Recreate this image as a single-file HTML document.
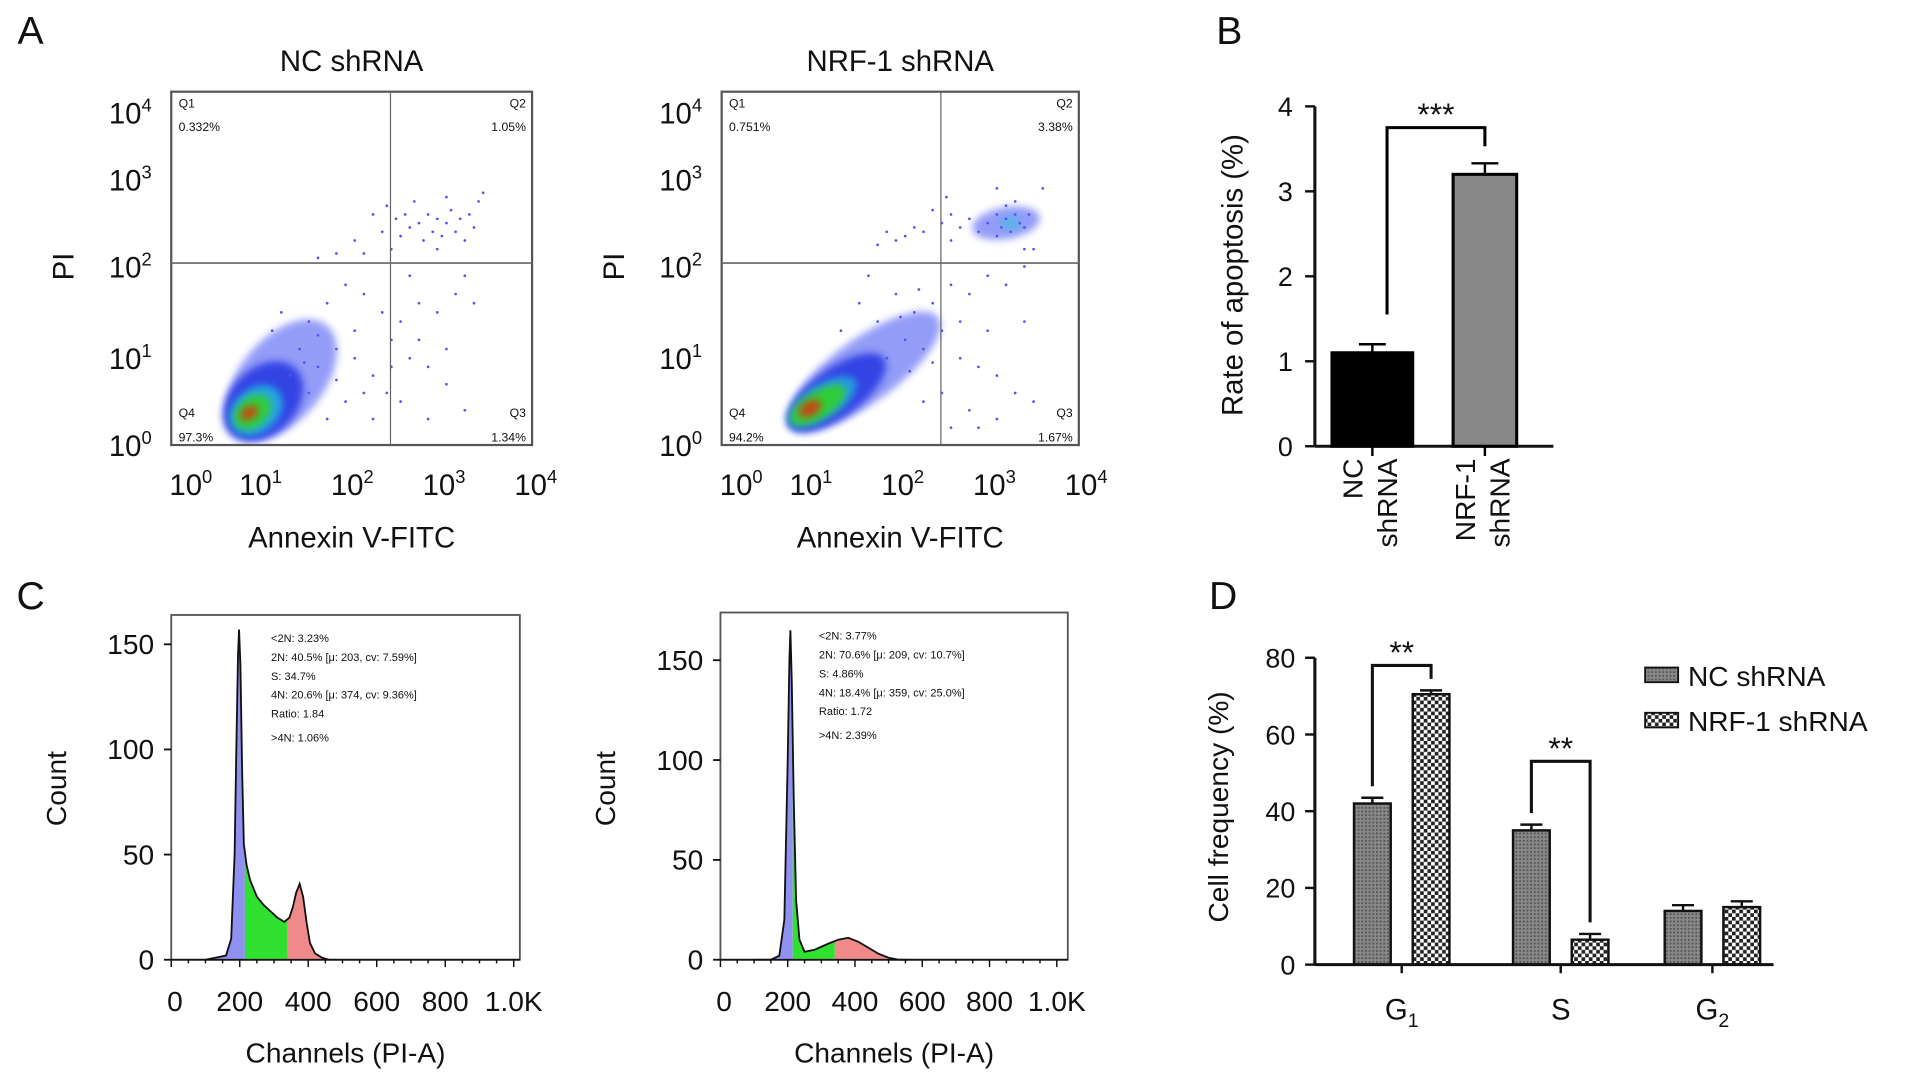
<!DOCTYPE html>
<html><head><meta charset="utf-8"><style>
html,body{margin:0;padding:0;background:#fff;}
svg{display:block;font-family:"Liberation Sans",Arial,sans-serif;}
</style></head><body>
<svg id="fig" width="1913" height="1082" viewBox="0 0 1564 885" preserveAspectRatio="none">
<defs>
<pattern id="patNC" width="3" height="3" patternUnits="userSpaceOnUse"><rect width="3" height="3" fill="#888"/><rect width="1.5" height="1.5" fill="#555"/></pattern>
<pattern id="patNRF" width="6" height="6" patternUnits="userSpaceOnUse"><rect width="6" height="6" fill="#fff"/><rect width="3" height="3" fill="#222"/><rect x="3" y="3" width="3" height="3" fill="#222"/></pattern>
<filter id="soft" x="-50%" y="-50%" width="200%" height="200%"><feGaussianBlur stdDeviation="3"/></filter>
<clipPath id="clipA0"><rect x="140" y="75" width="295" height="289"/></clipPath>
<clipPath id="clipA1"><rect x="590" y="75" width="292" height="289"/></clipPath>
</defs>
<g id="root"></g>
</svg>
<script>
// ---------- Panel A data (log10 units) ----------
const aTitles = ["NC shRNA", "NRF-1 shRNA"];
const aQ1 = ["0.332%", "0.751%"];
const aQ2 = ["1.05%", "3.38%"];
const aQ3 = ["1.34%", "1.67%"];
const aQ4 = ["97.3%", "94.2%"];
const aGateX = [2.39, 2.39];
const aGateY = [2.04, 2.04];
// density layers: [logX, logY, rx, ry, angle, colour, opacity]
const aLayersNC = [[1.2,0.75,58,34,-50,'#2a3af0',0.5],[1.0,0.5,38,27,-45,'#1a2fe0',0.8],[0.9,0.4,24,18,-40,'#20c0e0',0.8],[0.85,0.38,17,12,-40,'#30d030',0.95],[0.8,0.37,8,5,-30,'#d04010',0.95]];
const aLayersNRF = [[1.55,0.85,75,26,-36,'#2a3af0',0.5],[1.25,0.6,48,20,-36,'#1a2fe0',0.8],[1.1,0.5,32,14,-33,'#20c0e0',0.7],[1.05,0.46,26,11,-32,'#30d030',0.95],[0.95,0.42,10,6,-30,'#d04010',0.95],[3.1,2.5,28,13,-10,'#2a3af0',0.5],[3.15,2.5,9,6,0,'#40c0e0',0.6]];
const aSparseNC = [[2.2,2.6],[2.3,2.4],[2.35,2.7],[2.45,2.55],[2.5,2.35],[2.55,2.6],[2.6,2.45],[2.7,2.5],[2.75,2.3],[2.8,2.6],[2.85,2.4],[2.9,2.55],[2.95,2.35],[3.0,2.5],[3.05,2.65],[3.1,2.4],[3.15,2.55],[3.2,2.3],[3.25,2.6],[3.3,2.45],[3.35,2.75],[3.4,2.85],[2.65,2.75],[3.0,2.8],[2.9,2.2],[2.4,2.2],[2.0,2.3],[1.8,2.15],[1.6,2.1],[2.1,2.15],[1.2,1.5],[1.5,1.4],[1.7,1.6],[1.9,1.8],[2.1,1.7],[2.3,1.5],[2.5,1.4],[2.7,1.6],[2.9,1.5],[3.1,1.7],[3.3,1.6],[1.4,1.1],[1.6,0.9],[1.8,1.1],[2.0,1.0],[2.2,0.8],[2.4,0.9],[2.6,1.0],[2.8,0.9],[3.0,0.7],[3.2,0.4],[2.5,0.5],[2.2,0.3],[2.8,0.3],[1.9,0.5],[2.0,1.3],[2.4,1.2],[2.7,1.2],[3.0,1.1],[1.3,0.8],[1.5,0.6],[1.7,0.3],[2.6,1.9],[3.2,1.9],[1.1,1.3],[2.35,0.6],[1.6,1.25],[1.8,0.75],[2.1,0.6],[1.45,0.95]];
const aSparseNRF = [[2.9,2.5],[3.0,2.6],[3.05,2.45],[3.1,2.55],[3.15,2.4],[3.2,2.6],[3.25,2.5],[3.3,2.45],[3.0,2.35],[3.1,2.7],[3.2,2.75],[3.35,2.6],[2.8,2.4],[2.7,2.55],[2.6,2.45],[2.5,2.6],[2.4,2.5],[2.3,2.65],[2.2,2.4],[2.1,2.45],[2.0,2.35],[1.9,2.3],[1.8,2.4],[1.7,2.25],[2.5,2.3],[3.4,2.2],[3.3,2.2],[3.5,2.9],[3.0,2.9],[2.45,2.8],[1.5,1.6],[1.7,1.4],[1.9,1.7],[2.1,1.5],[2.3,1.6],[2.5,1.8],[2.7,1.7],[2.9,1.9],[3.1,1.8],[3.3,2.0],[2.0,1.2],[2.2,1.1],[2.4,1.3],[2.6,1.0],[2.8,0.9],[3.0,0.8],[3.2,0.6],[2.7,0.4],[3.0,0.3],[2.4,0.6],[2.2,0.5],[1.8,1.0],[1.3,1.3],[2.6,1.4],[2.9,1.3],[3.3,1.4],[2.5,0.2],[1.6,1.9],[2.8,0.2],[3.4,0.5],[2.05,0.85],[2.3,0.95],[1.95,1.45],[2.15,1.75]];
const aXTickPx = [158,215,290,365,440];
const aYTickPx = [364,293,218,147,92];
// ---------- Panel B data ----------
const bCats = ["NC shRNA", "NRF-1 shRNA"];
const bVals = [1.1, 3.2];
const bErr = [0.1, 0.13];
const bTicks = [0,1,2,3,4];
// ---------- Panel C data ----------
const cChanNC = [100,130,160,175,185,190,195,198,202,207,212,220,230,250,270,290,310,330,345,355,365,375,385,395,405,420,440,460];
const cCntNC  = [0,1,2,10,50,100,145,157,140,90,55,45,38,30,26,23,20,18,20,25,32,36,30,18,8,3,1,0];
const cChanNRF = [100,150,175,190,200,205,208,212,218,225,235,250,280,320,350,380,410,440,470,500,530,560];
const cCntNRF  = [0,0,2,20,100,150,165,140,80,30,10,4,5,8,10,11,9,6,3,1,0,0];
const cTextNC = ["<2N: 3.23%","2N: 40.5%   [\u03bc: 203, cv: 7.59%]","S: 34.7%","4N: 20.6%   [\u03bc: 374, cv: 9.36%]","Ratio: 1.84",">4N: 1.06%"];
const cTextNRF = ["<2N: 3.77%","2N: 70.6%   [\u03bc: 209, cv: 10.7%]","S: 4.86%","4N: 18.4%   [\u03bc: 359, cv: 25.0%]","Ratio: 1.72",">4N: 2.39%"];
const cXTicks = [0,200,400,600,800,1000];
const cXLabels = ["0","200","400","600","800","1.0K"];
const cYTicks = [0,50,100,150];
// ---------- Panel D data ----------
const dCats = ["G1","S","G2"];
const dNC = [42, 35, 14];
const dNRF = [70.5, 6.5, 15];
const dErrNC = [1.5, 1.5, 1.5];
const dErrNRF = [1, 1.5, 1.5];
const dTicks = [0,20,40,60,80];

const NS="http://www.w3.org/2000/svg";
const root=document.getElementById('root');
function mk(tag,attrs,parent){const e=document.createElementNS(NS,tag);for(const k in attrs)e.setAttribute(k,attrs[k]);(parent||root).appendChild(e);return e;}
function txt(x,y,s,size,anchor,parent,extra){const t=mk('text',Object.assign({x:x,y:y,'font-size':size,'text-anchor':anchor||'middle',fill:'#111'},extra||{}),parent);t.textContent=s;return t;}
function interpArr(v,px){const i=Math.max(0,Math.min(px.length-2,Math.floor(v)));return px[i]+(v-i)*(px[i+1]-px[i]);}

[["A",25,36],["B",1005,36],["C",25,498],["D",1000,498]].forEach(l=>{
  const t=txt(l[1],l[2],l[0],32,'middle');
  
  
});

// ---------- Panel A ----------
const aBoxes=[{x0:140,x1:435},{x0:590,x1:882}];
aBoxes.forEach((b,i)=>{
  const g=mk('g',{});
  
  
  const off=b.x0-140;
  const yTop=75,yBot=364;
  const xs=v=>interpArr(v,aXTickPx)+off;
  const ys=v=>interpArr(v,aYTickPx);
  const pg=mk('g',{'clip-path':`url(#clipA${i})`},g);
  (i?aLayersNRF:aLayersNC).forEach(c=>{
    const e=mk('ellipse',{cx:xs(c[0]),cy:ys(c[1]),rx:c[2],ry:c[3],fill:c[5],opacity:c[6],filter:'url(#soft)',transform:`rotate(${c[4]} ${xs(c[0])} ${ys(c[1])})`},pg);
    
    
  });
  (i?aSparseNRF:aSparseNC).forEach(p=>{
    const d=mk('circle',{cx:xs(p[0]),cy:ys(p[1]),r:1.1,fill:'#5050ff'},pg);
    
    
  });
  mk('rect',{x:b.x0,y:yTop,width:b.x1-b.x0,height:yBot-yTop,fill:'none',stroke:'#555','stroke-width':1.8},g);
  mk('line',{x1:xs(aGateX[i]),x2:xs(aGateX[i]),y1:yTop,y2:yBot,stroke:'#666','stroke-width':1},g);
  mk('line',{x1:b.x0,x2:b.x1,y1:ys(aGateY[i]),y2:ys(aGateY[i]),stroke:'#666','stroke-width':1.4},g);
  txt(b.x0+6,88,"Q1",10,'start',g);txt(b.x0+6,107,aQ1[i],10,'start',g);
  txt(b.x1-5,88,"Q2",10,'end',g);txt(b.x1-5,107,aQ2[i],10,'end',g);
  txt(b.x0+6,341,"Q4",10,'start',g);txt(b.x0+6,361,aQ4[i],10,'start',g);
  txt(b.x1-5,341,"Q3",10,'end',g);txt(b.x1-5,361,aQ3[i],10,'end',g);
  for(let k=0;k<5;k++){
    const t=txt(b.x0-16,ys(k)+9,"10",24,'end',g);
    const s=mk('tspan',{'font-size':15,dy:-10},t);s.textContent=String(k);
  }
  for(let k=0;k<5;k++){const t=txt(xs(k)-2,405,"10",24,'middle',g);const s=mk('tspan',{'font-size':15,dy:-10},t);s.textContent=String(k);}
  const tt=txt((b.x0+b.x1)/2,58,aTitles[i],24,'middle',g);
  
  const yl=txt(0,0,"PI",24,'middle',g,{transform:`translate(${b.x0-80},218) rotate(-90)`});
  
  const xt=txt((b.x0+b.x1)/2,448,"Annexin V-FITC",24,'middle',g);
  
});

// ---------- Panel B ----------
(function(){
  const g=mk('g',{});
  
  
  const x0=1075,y0=365,yTop=87,xEnd=1270;
  const ys=v=>y0-v*(y0-yTop)/4;
  mk('line',{x1:x0,x2:x0,y1:yTop,y2:y0,stroke:'#111','stroke-width':2.5},g);
  mk('line',{x1:x0,x2:xEnd,y1:y0,y2:y0,stroke:'#111','stroke-width':2.5},g);
  bTicks.forEach(t=>{mk('line',{x1:x0-8,x2:x0,y1:ys(t),y2:ys(t),stroke:'#111','stroke-width':2},g);txt(x0-18,ys(t)+8,String(t),22,'end',g);});
  const cx=[1122,1214],w=[66,52];const fills=['#000','#888'];
  bVals.forEach((v,i)=>{
    const r=mk('rect',{x:cx[i]-w[i]/2,y:ys(v),width:w[i],height:y0-ys(v),fill:fills[i],stroke:'#000','stroke-width':2.5},g);
    
    mk('line',{x1:cx[i],x2:cx[i],y1:ys(v),y2:ys(v+bErr[i]),stroke:'#000','stroke-width':2},g);
    mk('line',{x1:cx[i]-11,x2:cx[i]+11,y1:ys(v+bErr[i]),y2:ys(v+bErr[i]),stroke:'#000','stroke-width':2},g);
    mk('line',{x1:cx[i],x2:cx[i],y1:y0,y2:y0+8,stroke:'#000','stroke-width':2},g);
  });
  const bt=ys(3.75);
  mk('polyline',{points:`${cx[0]+12},${ys(bVals[0]+bErr[0]+0.35)} ${cx[0]+12},${bt} ${cx[1]},${bt} ${cx[1]},${ys(bVals[1]+bErr[1]+0.2)}`,fill:'none',stroke:'#000','stroke-width':2.5},g);
  txt((cx[0]+cx[1])/2+6,bt-2,"***",26,'middle',g);
  const yl=txt(0,0,"Rate of apoptosis (%)",24,'middle',g,{transform:`translate(1016,225) rotate(-90)`});
  
  const lines=[["NC","shRNA"],["NRF-1","shRNA"]];
  lines.forEach((ls,i)=>ls.forEach((s,k)=>{txt(0,0,s,23,'end',g,{transform:`translate(${cx[i]-8+k*28},375) rotate(-90)`});}));
})();

// ---------- Panel C ----------
[{x0:140,x1:425,top:503,bot:785,chan:cChanNC,cnt:cCntNC,lab:cTextNC,x1000:420,name:'nc',ticks:[531,617,703,789]},
 {x0:589,x1:873,top:501,bot:785,chan:cChanNRF,cnt:cCntNRF,lab:cTextNRF,x1000:864,name:'nrf1',ticks:[543,625,706,788]}].forEach(p=>{
  const g=mk('g',{});
  
  
  const xs=c=>p.x0+c*(p.x1000-p.x0)/1000;
  const ys=v=>p.bot-v*((p.ticks[3]-p.ticks[0])/150);
  mk('rect',{x:p.x0,y:p.top,width:p.x1-p.x0,height:p.bot-p.top,fill:'none',stroke:'#555','stroke-width':1.5},g);
  const regions=[[0,215,'#9090f0'],[215,340,'#30e030'],[340,1000,'#f08a8a']];
  const interp=c=>{for(let k=1;k<p.chan.length;k++){if(p.chan[k]>=c){const a=p.chan[k-1],b=p.chan[k];const t=(c-a)/(b-a);return p.cnt[k-1]+t*(p.cnt[k]-p.cnt[k-1]);}}return 0;};
  regions.forEach(r=>{
    let pts=[];
    for(let k=0;k<p.chan.length;k++){const c=p.chan[k];if(c>=r[0]&&c<=r[1])pts.push([c,p.cnt[k]]);}
    const lo=Math.max(r[0],p.chan[0]),hi=Math.min(r[1],p.chan[p.chan.length-1]);
    pts=[[lo,interp(lo)]].concat(pts).concat([[hi,interp(hi)]]);
    let d=`M${xs(lo)},${ys(0)} `+pts.map(q=>`L${xs(q[0])},${ys(q[1])}`).join(' ')+` L${xs(hi)},${ys(0)} Z`;
    const a=mk('path',{d:d,fill:r[2],stroke:'none'},g);
    
  });
  const line='M'+p.chan.map((c,k)=>`${xs(c)},${ys(p.cnt[k])}`).join(' L');
  const l=mk('path',{d:line,fill:'none',stroke:'#111','stroke-width':1.5},g);
  
  mk('line',{x1:p.x0,x2:p.x1,y1:p.bot,y2:p.bot,stroke:'#111','stroke-width':1.5},g);
  for(let c=0;c<=1000;c+=50){mk('line',{x1:xs(c),x2:xs(c),y1:p.bot,y2:p.bot+(c%200?3:6),stroke:'#111','stroke-width':1.2},g);}
  cXTicks.forEach((t,k)=>{txt(xs(t)+(k==0?3:0),p.bot+42,cXLabels[k],23,'middle',g);});
  cYTicks.forEach(t=>{mk('line',{x1:p.x0-6,x2:p.x0,y1:ys(t),y2:ys(t),stroke:'#111','stroke-width':1.5},g);
    txt(p.x0-14,ys(t)+8,String(t),23,'end',g);});
  p.lab.forEach((s,k)=>txt(xs(220)+20,p.top+22+k*15.5+(k==5?4:0),s,9,'start',g));
  const yl=txt(0,0,"Count",23,'middle',g,{transform:`translate(${p.x0-86},645) rotate(-90)`});
  
  const xt=txt((p.x0+p.x1)/2,869,"Channels (PI-A)",23,'middle',g);
  
});

// ---------- Panel D ----------
(function(){
  const g=mk('g',{});
  
  
  const x0=1075,y0=789,yTop=538,xEnd=1450;
  const ys=v=>y0-v*(y0-yTop)/80;
  const gc=[1146,1276,1400],off=24,bw=30;
  const bars=[[dNC,dErrNC,'url(#patNC)',-1,'nc'],[dNRF,dErrNRF,'url(#patNRF)',1,'nrf1']];
  bars.forEach(s=>s[0].forEach((v,i)=>{
    const cx=gc[i]+s[3]*off;
    const r=mk('rect',{x:cx-bw/2,y:ys(v),width:bw,height:y0-ys(v),fill:s[2],stroke:'#111','stroke-width':2},g);
    
    mk('line',{x1:cx,x2:cx,y1:ys(v),y2:ys(v+s[1][i]),stroke:'#111','stroke-width':2},g);
    mk('line',{x1:cx-9,x2:cx+9,y1:ys(v+s[1][i]),y2:ys(v+s[1][i]),stroke:'#111','stroke-width':2},g);
  }));
  mk('line',{x1:x0,x2:x0,y1:yTop,y2:y0,stroke:'#111','stroke-width':2.5},g);
  mk('line',{x1:x0,x2:xEnd,y1:y0,y2:y0,stroke:'#111','stroke-width':2.5},g);
  dTicks.forEach(t=>{mk('line',{x1:x0-8,x2:x0,y1:ys(t),y2:ys(t),stroke:'#111','stroke-width':2},g);txt(x0-16,ys(t)+8,String(t),22,'end',g);});
  gc.forEach((c,i)=>{mk('line',{x1:c,x2:c,y1:y0,y2:y0+7,stroke:'#111','stroke-width':2},g);
    const t=txt(c,y0+45,dCats[i].charAt(0),24,'middle',g);
    if(dCats[i].length>1){const s=mk('tspan',{'font-size':16,dy:6},t);s.textContent=dCats[i].slice(1);}
  });
  [[0,78,"**"],[1,53,"**"]].forEach(b=>{
    const i=b[0];const l=gc[i]-off,r=gc[i]+off;const top=ys(b[1]);
    mk('polyline',{points:`${l},${ys(dNC[i]+dErrNC[i]+3)} ${l},${top} ${r},${top} ${r},${ys(dNRF[i]+dErrNRF[i]+3)}`,fill:'none',stroke:'#111','stroke-width':2.5},g);
    txt((l+r)/2,top-2,b[2],26,'middle',g);
  });
  const yl=txt(0,0,"Cell frequency (%)",23,'middle',g,{transform:`translate(1004,660) rotate(-90)`});
  
  const lg=[["NC shRNA",'url(#patNC)',553],["NRF-1 shRNA",'url(#patNRF)',590]];
  lg.forEach(e=>{
    const gg=mk('g',{},g);
    
    mk('rect',{x:1345,y:e[2]-7,width:27,height:12,fill:e[1],stroke:'#111','stroke-width':1.5},gg);
    txt(1380,e[2]+8,e[0],23,'start',gg);
  });
})();
</script>
</body></html>
